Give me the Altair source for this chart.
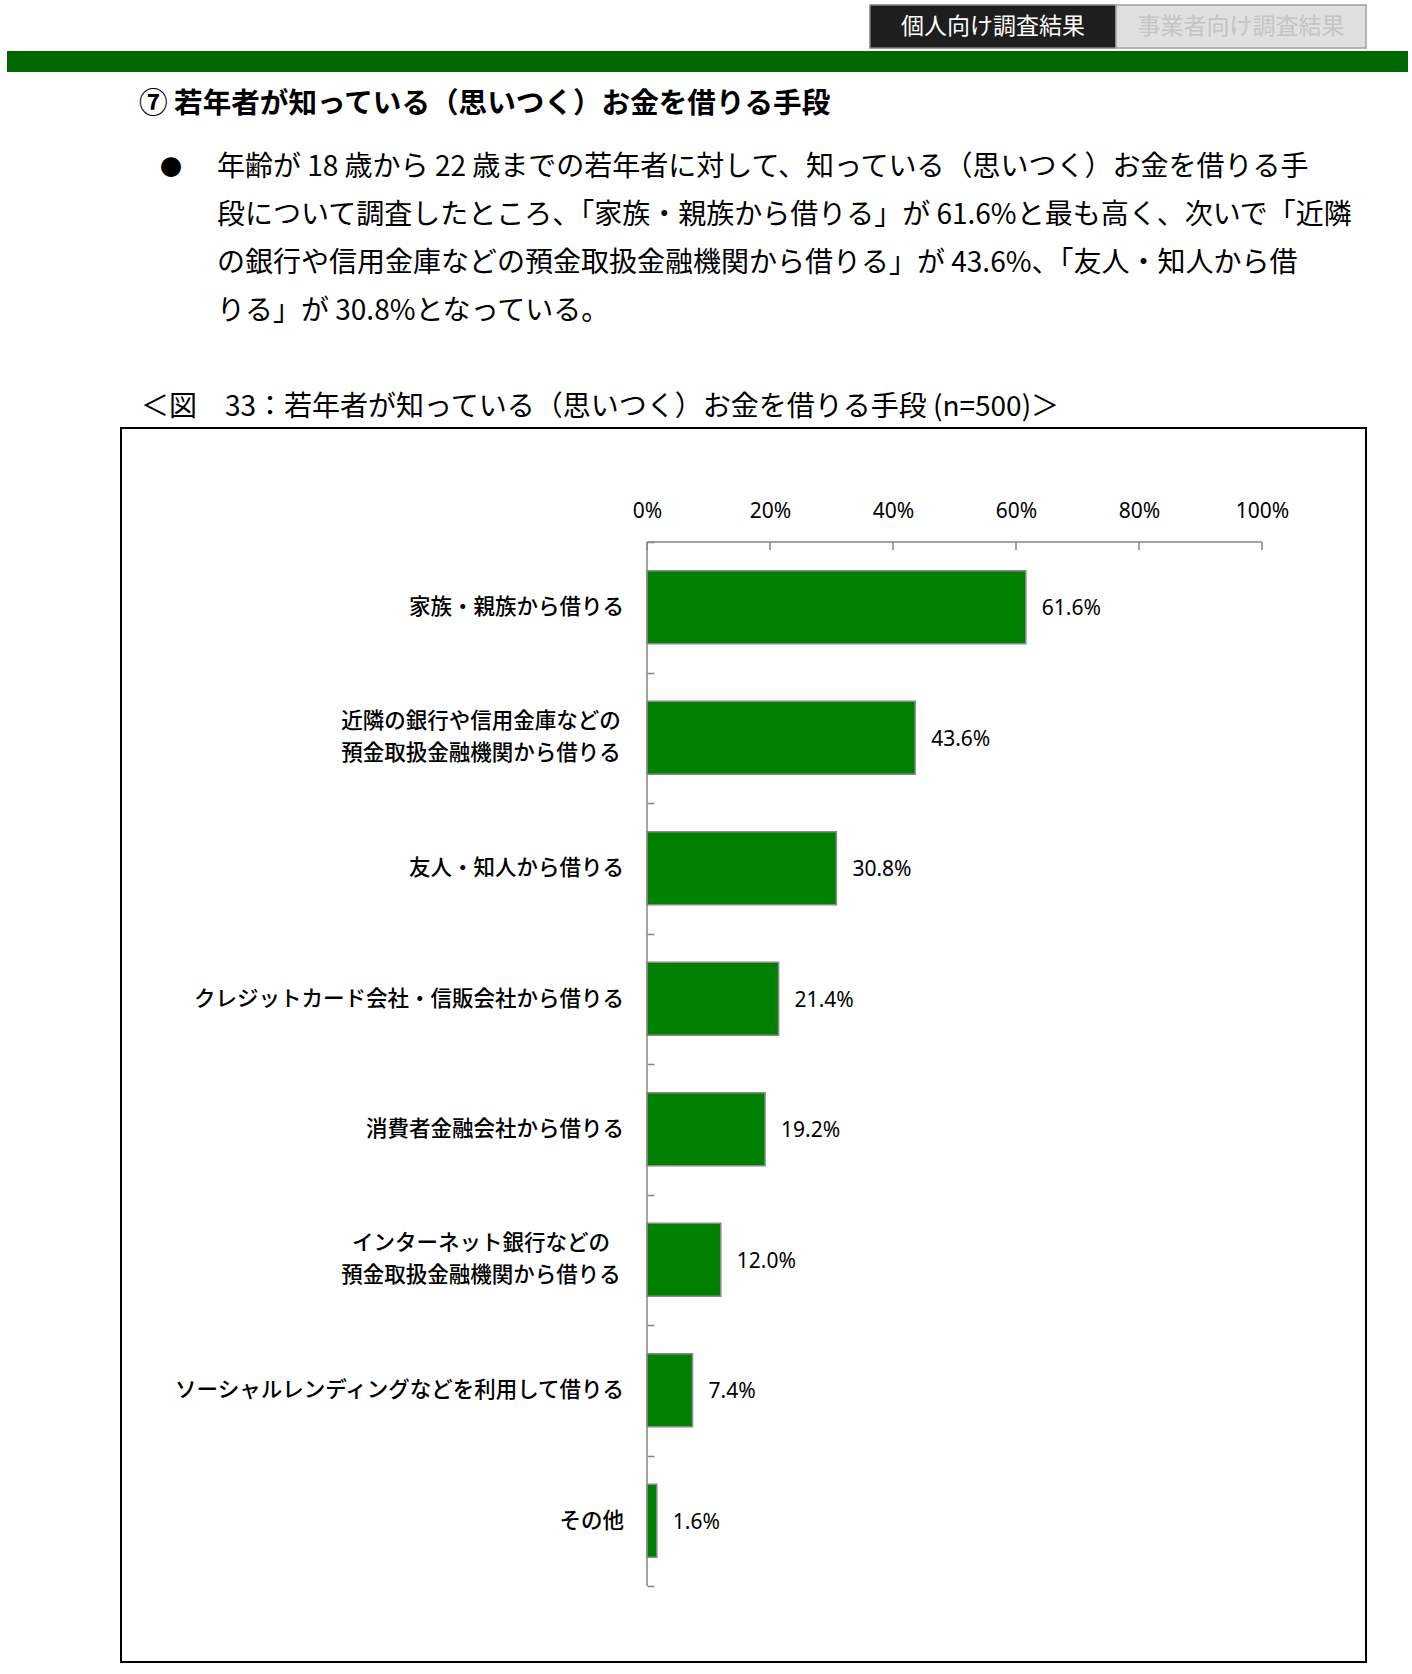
import altair as alt
import pandas as pd

# ---------------- data ----------------
categories = [
    "家族・親族から借りる",
    "近隣の銀行や信用金庫などの\n預金取扱金融機関から借りる",
    "友人・知人から借りる",
    "クレジットカード会社・信販会社から借りる",
    "消費者金融会社から借りる",
    "インターネット銀行などの\n預金取扱金融機関から借りる",
    "ソーシャルレンディングなどを利用して借りる",
    "その他",
]
values = [61.6, 43.6, 30.8, 21.4, 19.2, 12.0, 7.4, 1.6]
x_ticks = [0, 20, 40, 60, 80, 100]

tab_labels = ["個人向け調査結果", "事業者向け調査結果"]
section_title = "⑦ 若年者が知っている（思いつく）お金を借りる手段"
paragraph_lines = [
    "年齢が 18 歳から 22 歳までの若年者に対して、知っている（思いつく）お金を借りる手",
    "段について調査したところ、「家族・親族から借りる」が 61.6%と最も高く、次いで「近隣",
    "の銀行や信用金庫などの預金取扱金融機関から借りる」が 43.6%、「友人・知人から借",
    "りる」が 30.8%となっている。",
]
caption = "＜図　33：若年者が知っている（思いつく）お金を借りる手段 (n=500)＞"

# ---------------- layout ----------------
W, H = 615, 1044
OX, OY = 647, 542
JP = "Noto Sans CJK JP"
GRAY = "#868686"

line_mid, line_top, line_bot = [], [], []
for c in categories:
    parts = c.split("\n")
    if len(parts) == 1:
        line_mid.append(parts[0]); line_top.append(""); line_bot.append("")
    else:
        line_mid.append(""); line_top.append(parts[0]); line_bot.append(parts[1])

df = pd.DataFrame({"cat": categories, "value": values,
                   "mid": line_mid, "top": line_top, "bot": line_bot})
tick_df = pd.DataFrame({"t": x_ticks})
one = pd.DataFrame({"k": [0]})


def px(x):
    return x - OX


def py(y):
    return y - OY


layers = []

# chart frame
layers.append(
    alt.Chart(one).mark_rect(filled=False, stroke="black", strokeWidth=2).encode(
        x=alt.value(px(121)), x2=alt.value(px(1366)),
        y=alt.value(py(428)), y2=alt.value(py(1662)),
    )
)

# tabs
layers.append(
    alt.Chart(one).mark_rect(fill="#1e1e1e", stroke="#808080", strokeWidth=1.5).encode(
        x=alt.value(px(870)), x2=alt.value(px(1116)),
        y=alt.value(py(5)), y2=alt.value(py(48)),
    )
)
layers.append(
    alt.Chart(one).mark_rect(fill="#e0e0e0", stroke="#a0a0a0", strokeWidth=1.5).encode(
        x=alt.value(px(1116)), x2=alt.value(px(1366)),
        y=alt.value(py(5)), y2=alt.value(py(48)),
    )
)
layers.append(
    alt.Chart(one).mark_text(text=tab_labels[0], font=JP, fontSize=23, color="white",
                             align="center", baseline="middle").encode(
        x=alt.value(px(993)), y=alt.value(py(27)))
)
layers.append(
    alt.Chart(one).mark_text(text=tab_labels[1], font=JP, fontSize=23, color="#c4c4c4",
                             align="center", baseline="middle").encode(
        x=alt.value(px(1241)), y=alt.value(py(27)))
)

# green band
layers.append(
    alt.Chart(one).mark_rect(fill="#006600").encode(
        x=alt.value(px(7)), x2=alt.value(px(1408)),
        y=alt.value(py(51)), y2=alt.value(py(72)),
    )
)

# section title
layers.append(
    alt.Chart(one).mark_text(text=section_title, font=JP, fontSize=28.6, fontWeight="bold",
                             color="black", align="left", baseline="middle").encode(
        x=alt.value(px(139)), y=alt.value(py(104)))
)

# bullet
layers.append(
    alt.Chart(one).mark_text(text="●", font=JP, fontSize=22, color="black",
                             align="center", baseline="middle").encode(
        x=alt.value(px(171)), y=alt.value(py(168)))
)

# paragraph
for i, line in enumerate(paragraph_lines):
    layers.append(
        alt.Chart(one).mark_text(text=line, font=JP, fontSize=28, color="black",
                                 align="left", baseline="middle").encode(
            x=alt.value(px(217)), y=alt.value(py(168 + 48 * i)))
    )

# caption
layers.append(
    alt.Chart(one).mark_text(text=caption, font=JP, fontSize=28, color="black",
                             align="left", baseline="middle").encode(
        x=alt.value(px(141)), y=alt.value(py(408)))
)

# ---------------- bar chart ----------------
y_enc = alt.Y(
    "cat:N",
    sort=categories,
    scale=alt.Scale(paddingInner=0, paddingOuter=0),
    axis=alt.Axis(
        orient="left", title=None, domain=False, grid=False, labels=False,
        tickBand="extent", tickSize=7, offset=-7, tickColor=GRAY, tickWidth=1.5,
    ),
)

bars = alt.Chart(df).mark_bar(
    height={"band": 0.56}, color="#008000", stroke="#8a8a8a", strokeWidth=1.5
).encode(
    x=alt.X(
        "value:Q",
        scale=alt.Scale(domain=[0, 100]),
        axis=alt.Axis(
            orient="top", title=None, values=x_ticks, domain=False, grid=False,
            ticks=False, tickSize=0, labelPadding=31, labelBaseline="middle",
            labelFlush=False, labelFont="Noto Sans", labelFontSize=21,
            labelColor="black", labelExpr="datum.value + '%'",
        ),
    ),
    y=y_enc,
)

value_labels = alt.Chart(df).transform_calculate(
    lab="format(datum.value, '.1f') + '%'"
).mark_text(
    align="left", baseline="middle", dx=16, dy=2, font="Noto Sans", fontSize=21, color="black"
).encode(
    x="value:Q",
    y=alt.Y("cat:N", sort=categories),
    text="lab:N",
)

cat_style = dict(baseline="middle", font=JP, fontSize=21.5, fontWeight=500, color="black")
cat_mid = alt.Chart(df).mark_text(dy=1, align="right", **cat_style).encode(
    x=alt.value(-23), y=alt.Y("cat:N", sort=categories), text="mid:N")
cat_top = alt.Chart(df).mark_text(dy=-16, align="center", **cat_style).encode(
    x=alt.value(-166), y=alt.Y("cat:N", sort=categories), text="top:N")
cat_bot = alt.Chart(df).mark_text(dy=16, align="center", **cat_style).encode(
    x=alt.value(-166), y=alt.Y("cat:N", sort=categories), text="bot:N")

xticks_layer = alt.Chart(tick_df).mark_rule(color=GRAY, strokeWidth=1.5).encode(
    x=alt.X("t:Q"), y=alt.value(0), y2=alt.value(8)
)

dom_x = alt.Chart(one).mark_rule(color=GRAY, strokeWidth=1.5).encode(
    x=alt.value(0), x2=alt.value(W), y=alt.value(0)
)
dom_y = alt.Chart(one).mark_rule(color=GRAY, strokeWidth=1.5).encode(
    x=alt.value(0), y=alt.value(0), y2=alt.value(H)
)

layers += [bars, value_labels, cat_mid, cat_top, cat_bot, xticks_layer, dom_x, dom_y]

chart = alt.layer(*layers).properties(
    width=W,
    height=H,
    padding={"left": OX, "top": OY, "right": 1412 - OX - W, "bottom": 1674 - OY - H},
    autosize=alt.AutoSizeParams(type="none"),
    background="white",
).configure_view(stroke=None)

chart.save("out.html", embed_options={"renderer": "svg", "actions": False})
